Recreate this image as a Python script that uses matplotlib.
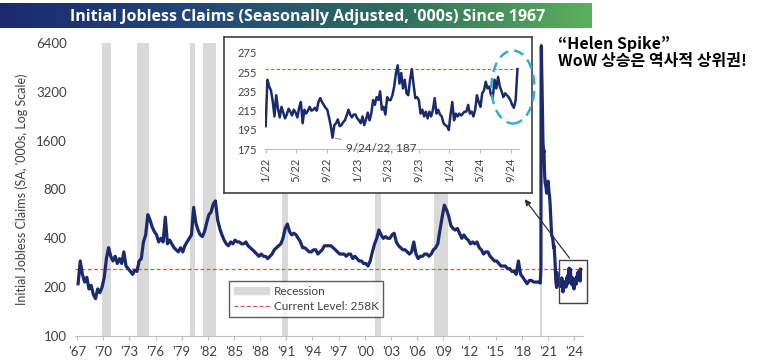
import numpy as np
import pandas as pd
import matplotlib
matplotlib.use('Agg')
from matplotlib import pyplot as plt, patches, dates as mdates
from matplotlib.lines import Line2D
from matplotlib.colors import LinearSegmentedColormap

plt.rcParams['font.family'] = ['Lato', 'DejaVu Sans']

# quarterly initial claims, '000s, 1967-2019
hist_claims = [
    210, 290, 240, 215,  230, 195, 205, 180,  170, 195, 185, 200,
    230, 300, 350, 310,  290, 310, 280, 300,  280, 330, 270, 260,
    250, 240, 255, 250,  290, 300, 380, 420,  560, 520, 470, 440,
    420, 380, 400, 380,  540, 370, 390, 370,  350, 340, 330, 350,
    330, 360, 380, 400,  420, 620, 500, 450,  420, 410, 440, 500,
    560, 580, 650, 680,  520, 460, 420, 390,  370, 360, 380, 370,
    390, 380, 380, 370,  370, 380, 360, 350,  340, 330, 320, 310,
    320, 310, 310, 300,  310, 320, 340, 350,  360, 370, 400, 460,
    490, 440, 420, 430,  420, 400, 380, 350,  350, 340, 330, 330,
    340, 340, 320, 330,  340, 360, 360, 360,  360, 350, 340, 330,
    320, 320, 320, 310,  320, 320, 300, 310,  300, 290, 290, 280,
    280, 270, 290, 330,  370, 400, 450, 420,  400, 410, 400, 400,
    420, 430, 380, 360,  350, 340, 340, 330,  320, 330, 380, 320,
    300, 310, 310, 320,  320, 310, 320, 340,  350, 370, 450, 540,
    640, 600, 550, 480,  460, 450, 460, 430,  400, 420, 400, 390,
    370, 380, 370, 380,  350, 340, 320, 330,  330, 310, 300, 290,
    290, 280, 270, 270,  270, 260, 260, 250,  250, 240, 290, 240,
    230, 220, 210, 220,  220, 215, 215, 215,
]

covid_dates = [
    '2020-01-15', '2020-02-15', '2020-03-14', '2020-03-21', '2020-03-28',
    '2020-04-04', '2020-04-11', '2020-04-25', '2020-05-09', '2020-05-23',
    '2020-06-06', '2020-06-20', '2020-07-04', '2020-07-18', '2020-08-01',
    '2020-08-15', '2020-09-05', '2020-09-26', '2020-10-17', '2020-11-07',
    '2020-11-28', '2020-12-19', '2021-01-09', '2021-01-30', '2021-02-20',
    '2021-03-13', '2021-04-03', '2021-04-24', '2021-05-15', '2021-06-05',
    '2021-06-26', '2021-07-17', '2021-08-07', '2021-08-28', '2021-09-18',
    '2021-10-09', '2021-10-30', '2021-11-20', '2021-12-11',
]
covid_claims = [
    215, 212, 256, 2900, 6150, 6100, 4900, 3800, 2900, 2200,
    1600, 1450, 1350, 1400, 1200, 1000, 880, 850, 820, 760,
    780, 880, 900, 820, 760, 720, 650, 560, 480, 420,
    410, 400, 380, 350, 360, 320, 280, 230, 210,
]

# weekly claims, 2022-01-01 .. 2024-09-28
recent_claims = [
    199, 247, 240, 236, 225, 209, 231, 217, 208, 219,
    213, 207, 211, 217, 214, 210, 216, 213, 208, 218,
    224, 202, 216, 212, 215, 219, 215, 216, 218, 215,
    224, 228, 224, 221, 218, 216, 208, 199, 187, 200,
    202, 206, 199, 200, 203, 205, 210, 216, 211, 208,
    211, 211, 207, 205, 202, 209, 200, 206, 213, 205,
    212, 226, 221, 229, 226, 235, 216, 219, 211, 229,
    226, 226, 231, 240, 254, 262, 243, 254, 238, 247,
    233, 231, 247, 258, 242, 228, 229, 226, 212, 216,
    209, 214, 207, 214, 209, 216, 228, 212, 216, 211,
    209, 202, 200, 199, 195, 211, 224, 205, 212, 209,
    212, 210, 212, 214, 214, 221, 212, 214, 209, 216,
    231, 224, 219, 233, 236, 245, 238, 240, 231, 229,
    247, 238, 250, 240, 235, 229, 233, 231, 229, 226,
    221, 218, 226, 258,
]

recessions = [
    ('1969-12-01', '1970-11-30'), ('1973-11-01', '1975-03-31'),
    ('1980-01-01', '1980-07-31'), ('1981-07-01', '1982-11-30'),
    ('1990-07-01', '1991-03-31'), ('2001-03-01', '2001-11-30'),
    ('2007-12-01', '2009-06-30'), ('2020-02-01', '2020-04-30'),
]
current = recent_claims[-1]

year_ticks = list(range(1967, 2025, 3))
y_ticks = [100, 200, 400, 800, 1600, 3200, 6400]
inset_y_ticks = [175, 195, 215, 235, 255, 275]
inset_x_ticks = ['2022-01-01', '2022-05-01', '2022-09-01', '2023-01-01', '2023-05-01',
                 '2023-09-01', '2024-01-01', '2024-05-01', '2024-09-01']

navy = '#1b2a6b'
grey_txt = '#404040'
band = '#d9d9d9'
red = '#e0504a'

hist_dates = pd.date_range('1967-01-01', periods=len(hist_claims), freq='QS') + pd.Timedelta(days=45)
recent_dates = pd.date_range(end='2024-09-28', periods=len(recent_claims), freq='W-SAT')
all_dates = list(hist_dates) + list(pd.to_datetime(covid_dates)) + list(recent_dates)
all_claims = hist_claims + covid_claims + recent_claims

fig = plt.figure(figsize=(7.83, 3.6), dpi=100)

# title banner
bar = fig.add_axes([0, 1 - 28 / 360, 592 / 783, 25 / 360])
cmap = LinearSegmentedColormap.from_list('banner', ['#1b2a6e', '#23477a', '#2f6d5c', '#5cb05c'])
bar.imshow(np.linspace(0, 1, 256)[None, :], aspect='auto', cmap=cmap, extent=(0, 1, 0, 1))
bar.set_axis_off()
bar.text(0.52, 0.45, "Initial Jobless Claims (Seasonally Adjusted, '000s) Since 1967",
         color='white', fontsize=11.5, fontweight='bold', ha='center', va='center',
         family=['Open Sans', 'DejaVu Sans'])

# main chart
ax = fig.add_axes([75 / 783, 1 - 336 / 360, 508 / 783, 293 / 360])
for s, e in recessions:
    ax.axvspan(pd.Timestamp(s), pd.Timestamp(e), color=band, lw=0, zorder=0)
ax.axhline(current, color=red, lw=0.9, ls=(0, (3, 2)), zorder=1)
ax.plot(all_dates, all_claims, color=navy, lw=2.3, zorder=2)

ax.set_yscale('log')
ax.set_ylim(100, 6400)
ax.set_yticks(y_ticks)
ax.set_yticklabels([str(v) for v in y_ticks])
ax.minorticks_off()
ax.set_xlim(pd.Timestamp('1966-10-08'), pd.Timestamp('2025-01-10'))
ax.set_xticks([pd.Timestamp(f'{y}-01-01') for y in year_ticks])
ax.set_xticklabels([f"'{y % 100:02d}" for y in year_ticks])
for sp in ['top', 'right', 'left']:
    ax.spines[sp].set_visible(False)
ax.spines['bottom'].set_color('#bfbfbf')
ax.tick_params(axis='y', length=0, labelsize=9.5, labelcolor=grey_txt, pad=6)
ax.tick_params(axis='x', length=3, color='#bfbfbf', labelsize=9.5, labelcolor=grey_txt, pad=4)
ax.set_ylabel("Initial Jobless Claims (SA, '000s, Log Scale)", fontsize=9, color=grey_txt, labelpad=6)

legend_handles = [patches.Patch(color=band, label='Recession'),
                  Line2D([], [], color=red, lw=0.9, ls=(0, (3, 2)), label=f'Current Level: {current}K')]
leg = ax.legend(handles=legend_handles, loc='lower left', bbox_to_anchor=(0.303, 0.065),
                borderaxespad=0, fontsize=8.5, frameon=True, fancybox=False, edgecolor='#333333',
                handlelength=3.0, handleheight=0.6, borderpad=0.4, labelspacing=0.4, handletextpad=0.4)
for t in leg.get_texts():
    t.set_color(grey_txt)
leg.get_frame().set_linewidth(1.0)

# zoom rectangle around recent data
x0 = mdates.date2num(pd.Timestamp('2022-04-01'))
x1 = mdates.date2num(pd.Timestamp('2025-06-20'))
ax.add_patch(patches.Rectangle((x0, 160), x1 - x0, 133, fill=False, edgecolor=grey_txt,
                               lw=1.0, clip_on=False, zorder=3))
ax.annotate('', xy=(523 / 783, 1 - 197 / 360), xycoords='figure fraction',
            xytext=(mdates.date2num(pd.Timestamp('2023-09-01')), 293), textcoords='data',
            arrowprops=dict(arrowstyle='-|>', color='#333333', lw=0.9, mutation_scale=9))

# inset frame
box = fig.add_axes([224 / 783, 1 - 193 / 360, 308 / 783, 156 / 360])
box.set_xticks([])
box.set_yticks([])
for sp in box.spines.values():
    sp.set_color('#404040')
    sp.set_linewidth(1.2)

# inset chart
ins = fig.add_axes([264.9 / 783, 1 - 149.3 / 360, 254.3 / 783, 101.4 / 360])
ins.patch.set_alpha(0)
ins.axhline(current, color=red, lw=0.8, ls=(0, (3, 2)), zorder=1)
ins.plot(recent_dates, recent_claims, color=navy, lw=1.8, zorder=2)
ins.set_ylim(175, 280)
ins.set_xlim(pd.Timestamp('2021-12-29'), pd.Timestamp('2024-10-05'))
ins.set_yticks(inset_y_ticks)
ins.set_xticks(pd.to_datetime(inset_x_ticks))
ins.set_xticklabels([f'{d.month}/{d:%y}' for d in pd.to_datetime(inset_x_ticks)], rotation=90)
for sp in ['top', 'right', 'left']:
    ins.spines[sp].set_visible(False)
ins.spines['bottom'].set_color('#bfbfbf')
ins.tick_params(axis='y', length=0, labelsize=8, labelcolor=grey_txt, pad=6)
ins.tick_params(axis='x', length=3, color='#bfbfbf', labelsize=8, labelcolor=grey_txt, pad=3)

i_min = int(np.argmin(recent_claims))
d_min = recent_dates[i_min]
ins.annotate(f'{d_min.month}/{d_min.day}/{d_min:%y}, {recent_claims[i_min]}',
             xy=(d_min, recent_claims[i_min]), xytext=(10, -7), textcoords='offset points',
             fontsize=8.5, color=grey_txt, ha='left', va='center',
             arrowprops=dict(arrowstyle='-', color='#999999', lw=0.8))

ins.add_patch(patches.Ellipse((mdates.date2num(pd.Timestamp('2024-09-10')), 239.5), 171, 75.6,
                              fill=False, edgecolor='#35aecb', lw=1.8, ls=(0, (4, 2.5)),
                              clip_on=False, zorder=4))

fig.text(558 / 783, 1 - 36 / 360, '\u201cHelen Spike\u201d\nWoW 상승은 역사적 상위권!',
         family=['Noto Sans CJK KR', 'DejaVu Sans'], fontweight='bold', fontsize=11.5,
         color='black', ha='left', va='top', linespacing=1.05)

fig.savefig('out.png', dpi=100)
